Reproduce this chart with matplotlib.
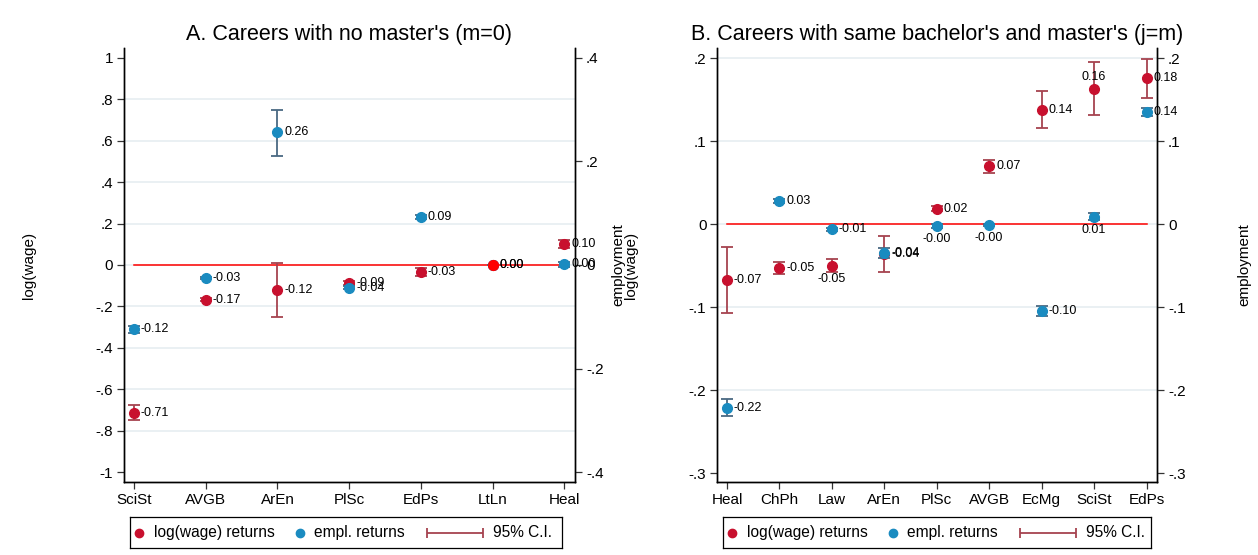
import matplotlib.pyplot as plt
from matplotlib.ticker import FuncFormatter

plt.rcParams["font.family"] = ["Liberation Sans", "DejaVu Sans"]
plt.rcParams["axes.linewidth"] = 1.0

WAGE = "#c8102e"
EMPL = "#1a8bc0"
WAGE_CI = "#a6434f"
EMPL_CI = "#4a6982"
GRID = "#e6eef1"
ZERO = "#ff0000"

# panel A: careers with no master's (m=0)
cats_a = ["SciSt", "AVGB", "ArEn", "PlSc", "EdPs", "LtLn", "Heal"]
wage_a = [-0.713, -0.168, -0.120, -0.087, -0.034, 0.000, 0.101]
wage_a_lo = [-0.749, -0.176, -0.251, -0.095, -0.052, 0.000, 0.081]
wage_a_hi = [-0.677, -0.160, 0.011, -0.079, -0.016, 0.000, 0.121]
empl_a = [-0.124, -0.026, 0.256, -0.044, 0.093, 0.000, 0.001]
empl_a_lo = [-0.131, -0.028, 0.211, -0.047, 0.089, 0.000, -0.003]
empl_a_hi = [-0.117, -0.024, 0.300, -0.041, 0.097, 0.000, 0.005]
base_a = "LtLn"

# panel B: careers with same bachelor's and master's (j=m)
cats_b = ["Heal", "ChPh", "Law", "ArEn", "PlSc", "AVGB", "EcMg", "SciSt", "EdPs"]
wage_b = [-0.067, -0.053, -0.050, -0.036, 0.019, 0.070, 0.138, 0.163, 0.176]
wage_b_lo = [-0.107, -0.060, -0.058, -0.058, 0.016, 0.062, 0.116, 0.132, 0.152]
wage_b_hi = [-0.027, -0.046, -0.042, -0.014, 0.022, 0.078, 0.161, 0.195, 0.199]
empl_b = [-0.221, 0.028, -0.006, -0.035, -0.002, -0.001, -0.104, 0.009, 0.135]
empl_b_lo = [-0.231, 0.026, -0.008, -0.041, -0.004, -0.002, -0.110, 0.005, 0.130]
empl_b_hi = [-0.211, 0.030, -0.004, -0.029, 0.000, 0.000, -0.098, 0.013, 0.140]

# where each value label sits: r = right, b = below, t = above
pos_wage_a = ["r"] * 7
pos_empl_a = ["r"] * 7
pos_wage_b = ["r", "r", "b", "r", "r", "r", "r", "t", "r"]
pos_empl_b = ["r", "r", "r", "r", "b", "b", "r", "b", "r"]


def stata_num(v, pos=None):
    if abs(v) < 1e-9:
        return "0"
    s = f"{v:.2f}".rstrip("0").rstrip(".")
    return s.replace("0.", ".")


def draw_series(ax, y, lo, hi, color, ci_color, positions):
    x = list(range(len(y)))
    yerr = [[a - b for a, b in zip(y, lo)], [b - a for a, b in zip(y, hi)]]
    ax.errorbar(x, y, yerr=yerr, fmt="none", ecolor=ci_color, elinewidth=1.3,
                capsize=4, capthick=1.3, zorder=3)
    ax.plot(x, y, "o", color=color, ms=7, zorder=4)
    for xi, yi, p in zip(x, y, positions):
        lab = f"{yi:.2f}"
        if p == "r":
            ax.annotate(lab, (xi, yi), xytext=(5, 0), textcoords="offset points",
                        ha="left", va="center", fontsize=9, zorder=5)
        elif p == "b":
            ax.annotate(lab, (xi, yi), xytext=(0, -5), textcoords="offset points",
                        ha="center", va="top", fontsize=9, zorder=5)
        else:
            ax.annotate(lab, (xi, yi), xytext=(0, 4), textcoords="offset points",
                        ha="center", va="bottom", fontsize=9, zorder=5)


def style_axes(ax, ax2, cats, yticks, y2ticks, ylim, y2lim, xlim, no_grid):
    ax.set_xlim(*xlim)
    ax.set_ylim(*ylim)
    ax2.set_ylim(*y2lim)
    ax.set_xticks(range(len(cats)))
    ax.set_xticklabels(cats)
    ax.set_yticks(yticks)
    ax2.set_yticks(y2ticks)
    ax.yaxis.set_major_formatter(FuncFormatter(stata_num))
    ax2.yaxis.set_major_formatter(FuncFormatter(stata_num))
    for a in (ax, ax2):
        a.spines["top"].set_visible(False)
        a.tick_params(labelsize=11, length=5, width=0.9, pad=3, color="#333333")
    ax.yaxis.grid(True, color=GRID, lw=1.2)
    ax.set_axisbelow(True)
    for t, v in zip(ax.yaxis.get_major_ticks(), yticks):
        if v in no_grid:
            t.gridline.set_visible(False)
    ax.set_ylabel("log(wage)", fontsize=11)
    ax2.set_ylabel("employment", fontsize=11)


def add_legend(fig, left, bottom, width, height):
    W, H = fig.get_size_inches() * fig.dpi
    lg = fig.add_axes([left / W, bottom / H, width / W, height / H])
    lg.set_xlim(0, width)
    lg.set_ylim(0, height)
    lg.set_xticks([])
    lg.set_yticks([])
    for s in lg.spines.values():
        s.set_linewidth(0.9)
    mid = height / 2
    lg.plot([9], [mid], "o", color=WAGE, ms=6)
    lg.text(24, mid, "log(wage) returns", va="center", fontsize=11.2)
    lg.plot([170], [mid], "o", color=EMPL, ms=6)
    lg.text(184, mid, "empl. returns", va="center", fontsize=11.2)
    lg.errorbar([325], [mid], xerr=[28], fmt="none", ecolor=WAGE_CI, elinewidth=1.3,
                capsize=3.5, capthick=1.3)
    lg.text(363, mid, "95% C.I.", va="center", fontsize=11.2)


fig = plt.figure(figsize=(12.58, 5.55), dpi=100)
W, H = 1258, 555

# ---- panel A ----
axA = fig.add_axes([124 / W, 1 - 482 / H, 451 / W, 434 / H])
axA2 = axA.twinx()
nA = len(cats_a)
axA.plot([0, nA - 1], [0, 0], color=ZERO, lw=1.1, zorder=2)
draw_series(axA, wage_a, wage_a_lo, wage_a_hi, WAGE, WAGE_CI, pos_wage_a)
draw_series(axA2, empl_a, empl_a_lo, empl_a_hi, EMPL, EMPL_CI, pos_empl_a)
ib = cats_a.index(base_a)
axA2.plot([ib], [empl_a[ib]], "o", color=ZERO, ms=7, zorder=6)
style_axes(axA, axA2, cats_a,
           [1, 0.8, 0.6, 0.4, 0.2, 0, -0.2, -0.4, -0.6, -0.8, -1],
           [0.4, 0.2, 0, -0.2, -0.4],
           (-1.048, 1.048), (-0.4192, 0.4192), (-0.14, 6.15), [1, -1])
axA.yaxis.set_label_coords(-0.195, 0.5)
axA2.yaxis.set_label_coords(1.080, 0.5)
axA.set_title("A. Careers with no master's (m=0)", fontsize=15.5, pad=6)

# ---- panel B ----
axB = fig.add_axes([717.5 / W, 1 - 482 / H, 439.5 / W, 434 / H])
axB2 = axB.twinx()
nB = len(cats_b)
axB.plot([0, nB - 1], [0, 0], color=ZERO, lw=1.1, zorder=2)
draw_series(axB, wage_b, wage_b_lo, wage_b_hi, WAGE, WAGE_CI, pos_wage_b)
draw_series(axB2, empl_b, empl_b_lo, empl_b_hi, EMPL, EMPL_CI, pos_empl_b)
style_axes(axB, axB2, cats_b,
           [0.2, 0.1, 0, -0.1, -0.2, -0.3],
           [0.2, 0.1, 0, -0.1, -0.2, -0.3],
           (-0.3105, 0.2124), (-0.3105, 0.2124), (-0.18, 8.2), [-0.3])
axB.yaxis.set_label_coords(-0.181, 0.5)
axB2.yaxis.set_label_coords(1.182, 0.5)
axB.set_title("B. Careers with same bachelor's and master's (j=m)", fontsize=15.5, pad=6)

add_legend(fig, 130, H - 548, 432, 31)
add_legend(fig, 723, H - 548, 428, 31)

fig.savefig("out.png", dpi=100)
